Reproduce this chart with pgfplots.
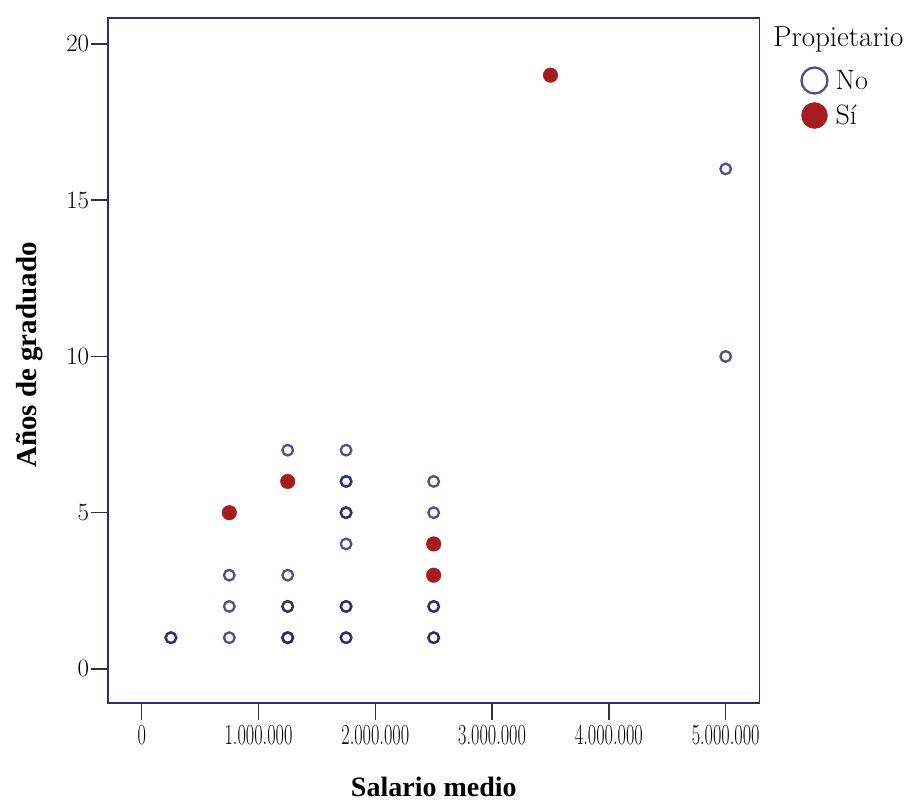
\documentclass[border=0pt]{standalone}
\usepackage{fontspec}
\usepackage{pgfplots}
\pgfplotsset{compat=1.18}
\newfontfamily\labfont{Liberation Serif}
\definecolor{navym}{HTML}{26266A}
\definecolor{boxc}{HTML}{2E2E6E}
\definecolor{redm}{HTML}{A51B1E}
\newcommand{\xl}[1]{\scalebox{0.63}[1]{#1}}
\begin{document}
\begin{tikzpicture}[x=1pt,y=1pt]
\useasboundingbox (-108.3,-98) rectangle (795.7,703);
\begin{axis}[
  at={(0,0)}, anchor=south west, scale only axis,
  width=651pt, height=685pt,
  xmin=-286000, xmax=5288000, ymin=-1.09, ymax=20.83,
  axis line style={boxc, line width=1.6pt},
  xtick={0,1000000,2000000,3000000,4000000,5000000},
  xticklabels={\xl{0},\xl{1.000.000},\xl{2.000.000},\xl{3.000.000},\xl{4.000.000},\xl{5.000.000}},
  scaled x ticks=false,
  ytick={0,5,10,15,20},
  tick align=outside, tick pos=left,
  major tick length=17pt,
  tick style={black!80, line width=1.4pt},
  xticklabel style={font=\fontsize{29}{29}\selectfont, inner sep=5pt},
  yticklabel style={font=\fontsize{28}{28}\selectfont, inner sep=2pt},
  xlabel={\labfont\bfseries Salario medio},
  ylabel={\labfont\bfseries Años de graduado},
  xlabel style={at={(axis description cs:0.5,0)}, anchor=center, yshift=-84pt, font=\fontsize{28}{28}\selectfont},
  ylabel style={at={(axis description cs:0,0.508)}, anchor=center, yshift=79pt, font=\fontsize{29}{29}\selectfont},
  legend style={at={(axis description cs:1,0.928)}, anchor=north west, draw=none, fill=none,
    font=\fontsize{28}{28}\selectfont, inner sep=0pt, row sep=9pt, xshift=42pt},
  legend cell align=left,
  legend image code/.code={\draw[#1, mark size=13pt] plot coordinates {(0pt,0pt)}; \path (18pt,0pt);},
  clip=false,
]
\addplot[only marks, mark=o, mark size=5.3pt, line width=2.3pt, navym, draw opacity=0.8] coordinates {
(250000,1) (250000,1)
(750000,1) (750000,2) (750000,3)
(1250000,1) (1250000,1) (1250000,1) (1250000,2) (1250000,2) (1250000,3) (1250000,7)
(1750000,1) (1750000,1) (1750000,2) (1750000,2) (1750000,4) (1750000,5) (1750000,5) (1750000,6) (1750000,6) (1750000,7)
(2500000,1) (2500000,1) (2500000,2) (2500000,2) (2500000,5) (2500000,6)
(5000000,10) (5000000,16)
};
\addlegendentry{No}
\addplot[only marks, mark=*, mark size=7.3pt, redm, fill=redm, draw=redm] coordinates {
(750000,5) (1250000,6) (2500000,3) (2500000,4) (3500000,19)
};
\addlegendentry{Sí}
\node[font=\fontsize{29}{29}\selectfont, anchor=center] at (axis description cs:1,0.968) [xshift=79pt] {Propietario};
\end{axis}
\end{tikzpicture}
\end{document}
